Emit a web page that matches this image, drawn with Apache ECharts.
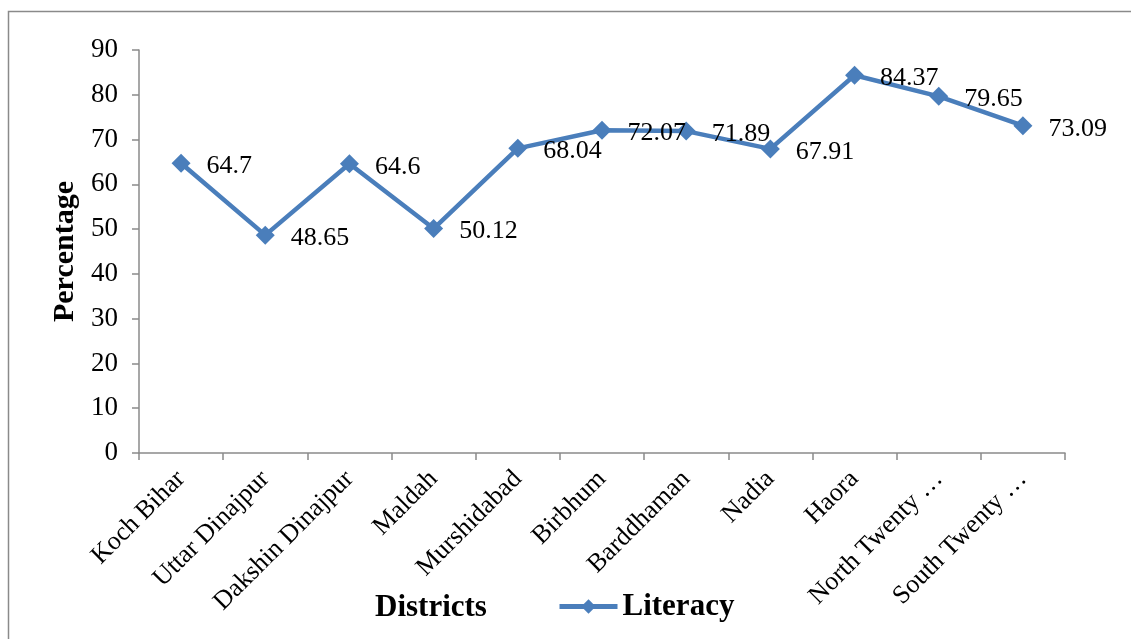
<!DOCTYPE html>
<html><head><meta charset="utf-8">
<script src="https://cdn.jsdelivr.net/npm/echarts@6/dist/echarts.min.js"></script>
<style>html,body{margin:0;padding:0;background:#fff}#c{width:1131px;height:639px}</style>
</head><body><div id="c"></div>
<script>
const categories = ['Koch Bihar','Uttar Dinajpur','Dakshin Dinajpur','Maldah','Murshidabad','Birbhum','Barddhaman','Nadia','Haora','North Twenty …','South Twenty …'];
const literacy = [64.7, 48.65, 64.6, 50.12, 68.04, 72.07, 71.89, 67.91, 84.37, 79.65, 73.09];
const yTicks = {min: 0, max: 90, interval: 10};
const seriesName = 'Literacy';

const FONT = '"Liberation Serif", "Times New Roman", serif';
const chart = echarts.init(document.getElementById('c'));
chart.setOption({
  animation: false,
  backgroundColor: '#fff',
  textStyle: {fontFamily: FONT},
  grid: {left: 139, right: 66, top: 50, bottom: 186, containLabel: false},
  graphic: [
    {type: 'rect', shape: {x: 8.5, y: 11.5, width: 1300, height: 800}, style: {fill: 'none', stroke: '#8a8a8a', lineWidth: 1.5}, silent: true},
    {type: 'text', left: 375, top: 592, style: {text: 'Districts', font: 'bold 31px ' + FONT, fill: '#000'}}
  ],
  legend: {
    data: [seriesName], left: 557, top: 591, padding: 0, itemWidth: 58, itemHeight: 18, itemGap: 3,
    lineStyle: {width: 5},
    textStyle: {fontFamily: FONT, fontSize: 31, fontWeight: 'bold', color: '#000'}
  },
  xAxis: {
    type: 'category', data: categories, boundaryGap: true,
    axisLine: {lineStyle: {color: '#8a8a8a', width: 1.5}},
    axisTick: {show: true, length: 7, alignWithLabel: false, lineStyle: {color: '#8a8a8a', width: 1.5}},
    axisLabel: {rotate: 45, interval: 0, margin: 22, color: '#000', fontFamily: FONT, fontSize: 26}
  },
  yAxis: {
    type: 'value', min: yTicks.min, max: yTicks.max, interval: yTicks.interval,
    name: 'Percentage', nameLocation: 'middle', nameGap: 57, nameRotate: 90,
    nameTextStyle: {fontFamily: FONT, fontSize: 30, fontWeight: 'bold', color: '#000'},
    splitLine: {show: false},
    axisLine: {show: true, lineStyle: {color: '#8a8a8a', width: 1.5}},
    axisTick: {show: true, length: 7, lineStyle: {color: '#8a8a8a', width: 1.5}},
    axisLabel: {color: '#000', fontFamily: FONT, fontSize: 27, margin: 21}
  },
  series: [{
    name: seriesName, type: 'line', data: literacy,
    symbol: 'diamond', symbolSize: 19,
    lineStyle: {color: '#4a7ebb', width: 4.5},
    itemStyle: {color: '#4a7ebb'},
    label: {show: true, position: 'right', distance: 16, offset: [0, 3], color: '#000', fontFamily: FONT, fontSize: 26}
  }]
});
</script></body></html>
